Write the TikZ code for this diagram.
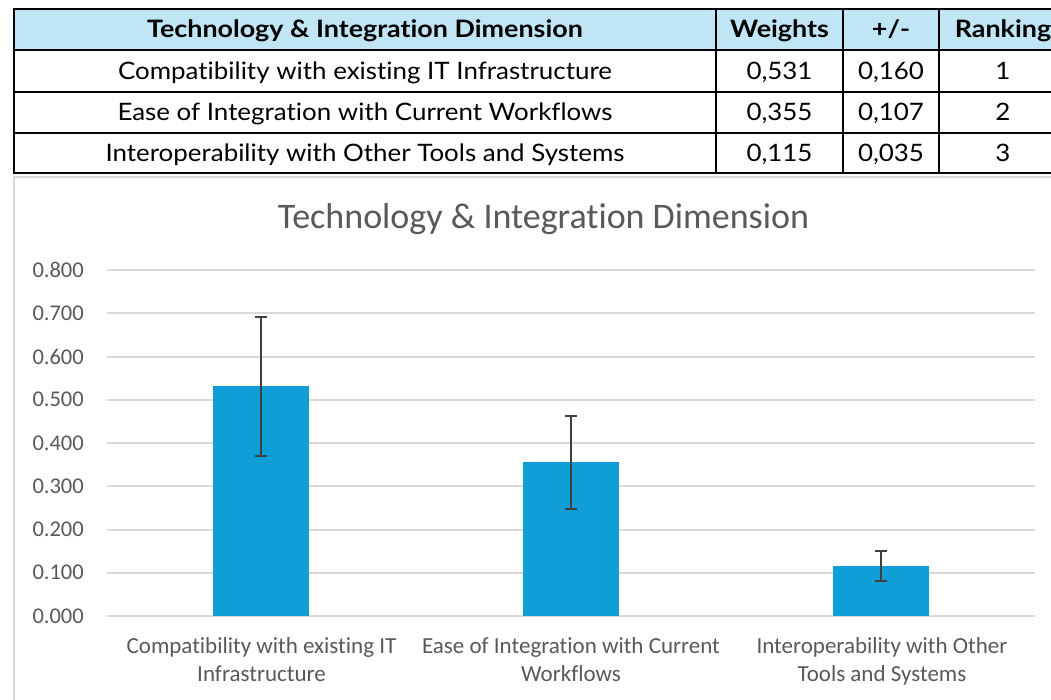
\documentclass[tikz,border=0pt]{standalone}
\usepackage{fontspec}
\setmainfont{Lato}[FakeStretch=1.08, Ligatures=NoCommon]
\newfontfamily\headfont{Lato}[FakeStretch=1.12, Ligatures=NoCommon]
\newfontfamily\chartfont{Carlito}[Ligatures=NoCommon]
\definecolor{headfill}{HTML}{C0E6F5}
\definecolor{barblue}{HTML}{0F9ED5}
\definecolor{gridgray}{HTML}{D9D9D9}
\definecolor{labelgray}{HTML}{595959}
\definecolor{errgray}{HTML}{404040}
\tikzset{
  cell/.style={anchor=base, inner sep=0pt, font=\fontsize{24}{29}\selectfont},
  headcell/.style={cell, font=\headfont\fontsize{24}{29}\selectfont\bfseries},
  tableline/.style={black, line width=2pt},
  gridline/.style={gridgray, line width=2pt},
  ticklabel/.style={anchor=east, inner sep=0pt, text=labelgray, font=\chartfont\fontsize{22.5}{27}\selectfont},
  catlabel/.style={anchor=north, inner sep=0pt, align=center, text=labelgray, font=\chartfont\fontsize{23}{28}\selectfont},
  bar/.style={fill=barblue, draw=none},
  errbar/.style={errgray, line width=2pt}
}
\begin{document}
\begin{tikzpicture}[x=1pt,y=-1pt]
\useasboundingbox (0,0) rectangle (1051,700);
\clip (0,0) rectangle (1051,700);
\fill[white] (0,0) rectangle (1051,700);

% ---------- table ----------
\fill[headfill] (14,9) rectangle (1070,50);
\draw[tableline] (14,9) rectangle (1070,173);
\foreach \yy in {50,92,133} \draw[tableline] (14,\yy) -- (1070,\yy);
\foreach \xx in {716,843,939} \draw[tableline] (\xx,9) -- (\xx,173);

\node[headcell] (h1) at (365,38) {Technology \& Integration Dimension};
\node[headcell] (h2) at (779.5,38) {Weights};
\node[headcell] (h3) at (891,38) {+/-};
\node[headcell] (h4) at (1003,38) {Ranking};

\node[cell] (r1a) at (365,79.5) {Compatibility with existing IT Infrastructure};
\node[cell] (r1b) at (779.5,79.5) {0,531};
\node[cell] (r1c) at (891,79.5) {0,160};
\node[cell] (r1d) at (1003,79.5) {1};

\node[cell] (r2a) at (365,121) {Ease of Integration with Current Workflows};
\node[cell] (r2b) at (779.5,121) {0,355};
\node[cell] (r2c) at (891,121) {0,107};
\node[cell] (r2d) at (1003,121) {2};

\node[cell] (r3a) at (365,162) {Interoperability with Other Tools and Systems};
\node[cell] (r3b) at (779.5,162) {0,115};
\node[cell] (r3c) at (891,162) {0,035};
\node[cell] (r3d) at (1003,162) {3};

% ---------- chart ----------
\draw[gridgray, line width=2pt] (14,177) rectangle (1080,720);

\node[anchor=base, inner sep=0pt, text=labelgray, font=\chartfont\fontsize{36}{42}\selectfont]
  (title) at (543.5,229) {Technology \& Integration Dimension};

% value axis: 0 at y=616, 432.5 per unit
\foreach \v/\lab in {0/0.000,1/0.100,2/0.200,3/0.300,4/0.400,5/0.500,6/0.600,7/0.700,8/0.800}{
  \draw[gridline] (107,616-\v*43.25) -- (1035,616-\v*43.25);
  \node[ticklabel] (tick\v) at (84,616-\v*43.25) {\lab};
}

% bars
\fill[bar] (213,616) rectangle (309,{616-0.531*432.5});
\fill[bar] (523,616) rectangle (619,{616-0.355*432.5});
\fill[bar] (833,616) rectangle (929,{616-0.115*432.5});

% error bars
\foreach \c/\m/\e in {261/0.531/0.160, 571/0.355/0.107, 881/0.115/0.035}{
  \draw[errbar] (\c,{616-(\m-\e)*432.5}) -- (\c,{616-(\m+\e)*432.5});
  \draw[errbar] (\c-6,{616-(\m-\e)*432.5}) -- (\c+6,{616-(\m-\e)*432.5});
  \draw[errbar] (\c-6,{616-(\m+\e)*432.5}) -- (\c+6,{616-(\m+\e)*432.5});
}

% category labels
\node[catlabel] (cat1) at (261.5,637) {Compatibility with existing IT\\Infrastructure};
\node[catlabel] (cat2) at (571,637) {Ease of Integration with Current\\Workflows};
\node[catlabel] (cat3) at (882,637) {Interoperability with Other\\Tools and Systems};
\end{tikzpicture}
\end{document}
